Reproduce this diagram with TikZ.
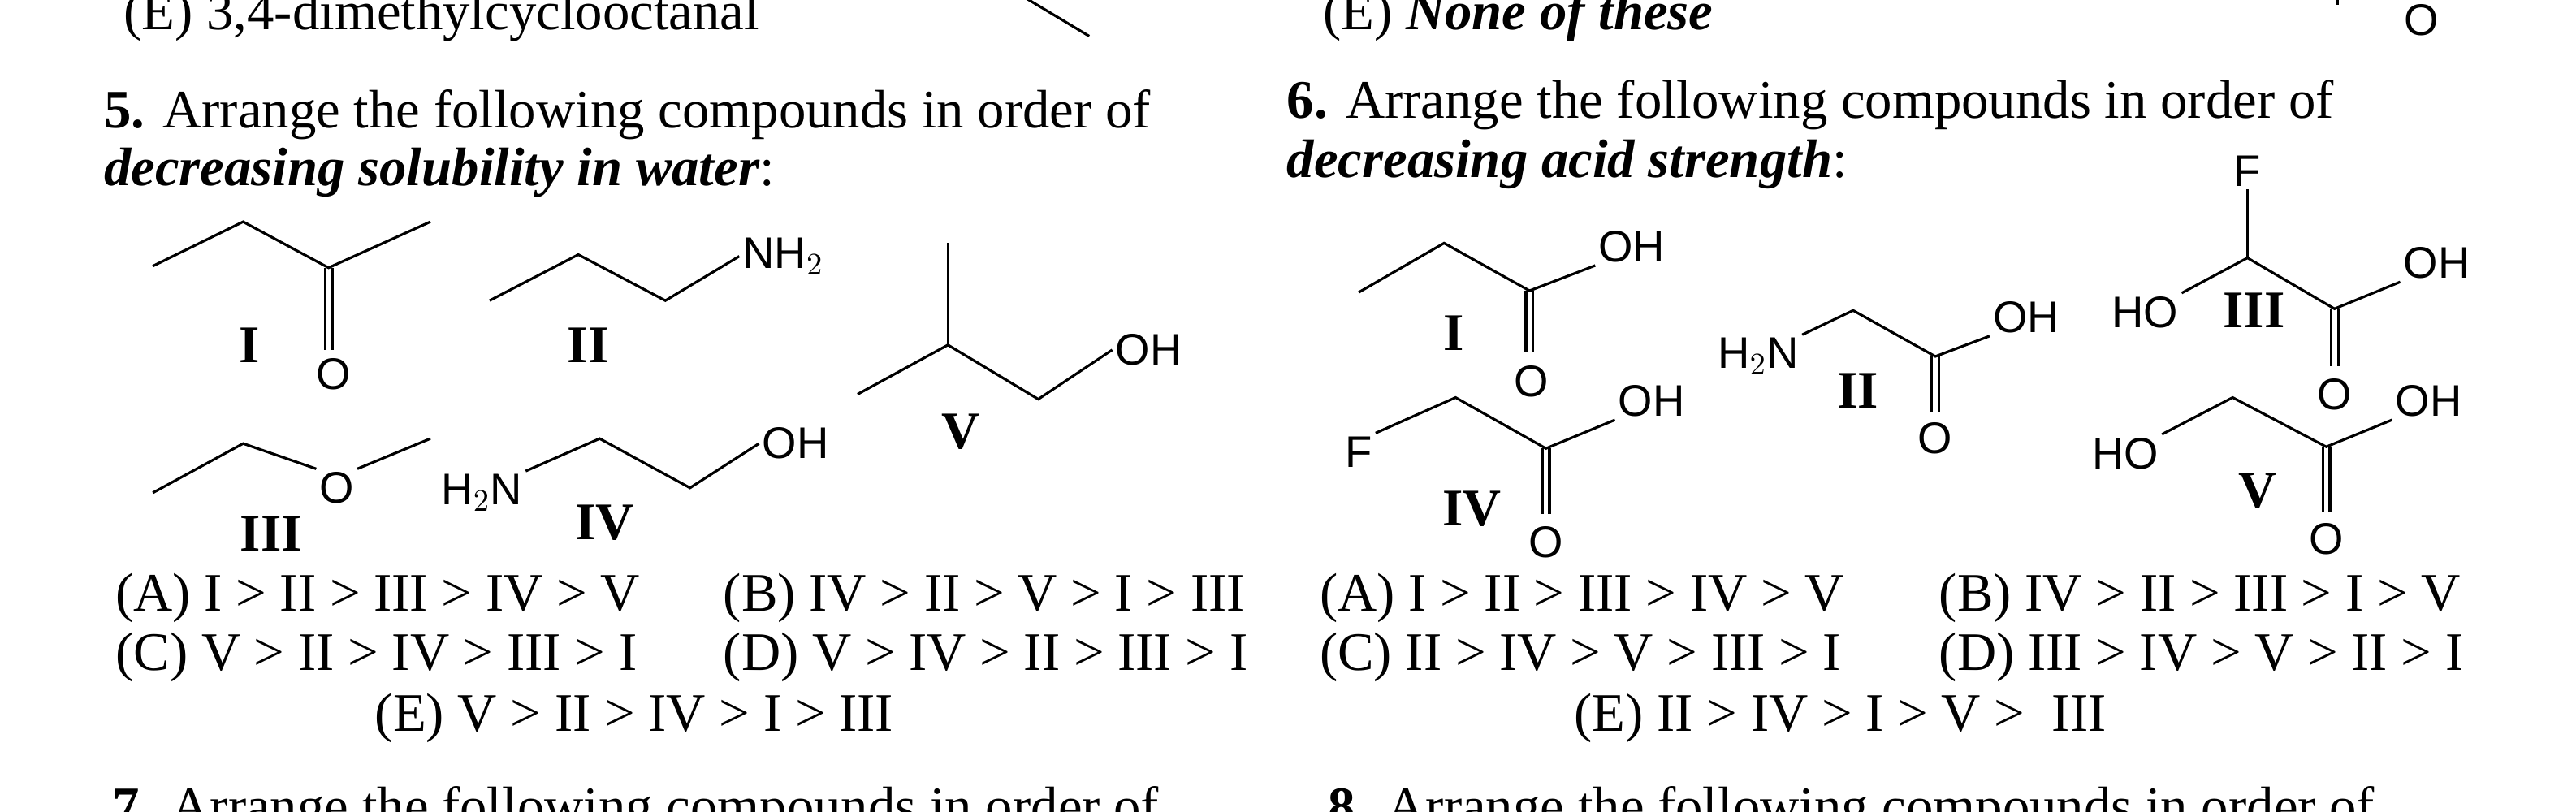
\documentclass[tikz,border=0pt]{standalone}
\usepackage{fontspec}
\setmainfont{Liberation Serif}
\newfontfamily\chemfont{Liberation Sans}
\usetikzlibrary{positioning,calc}
\tikzset{
        txt/.style = {anchor=base west, inner sep=0pt, font=\fontsize{19}{22}\selectfont},
        atom/.style = {inner sep=1pt, font=\chemfont\fontsize{15.5}{18}\selectfont},
        lbl/.style = {inner sep=0pt, font=\bfseries\fontsize{18.5}{22}\selectfont},
        bond/.style = {line width=0.9pt, line join=miter},
    }
\newcommand{\dbond}[2]{\draw[bond] ($(#1)+(-2.2,0)$) -- ($(#2)+(-2.2,0)$);
  \draw[bond] ($(#1)+(2.2,0)$) -- ($(#2)+(2.2,0)$);}

\begin{document}
\begin{tikzpicture}[x=0.2023mm, y=-0.2023mm]
    \useasboundingbox (0,0) rectangle (1568,494.3);

    % cut-off lines of the previous questions
    \node[txt] (q4e) at (75,18) {(E) 3,4-dimethylcyclooctanal};
    \node[txt] (q4f) at (805,18) {(E) \textbf{\textit{None of these}}};
    \coordinate (t1) at (623,-2); \coordinate (t2) at (663,22);
    \draw[bond] (t1) -- (t2);
    \coordinate (t3) at (1423,-2); \coordinate (t4) at (1423,3);
    \draw[bond] (t3) -- (t4);
    \node[atom] (tO) at (1474,12) {O};

    % question 5
    \node[txt] (q5a) at (63,78) {\textbf{5.} Arrange the following compounds in order of};
    \node[txt] (q5b) at (63,113) {\textbf{\textit{decreasing solubility in water}}:};

    % I
    \coordinate (a1) at (93,162); \coordinate (a2) at (148,135);
    \coordinate (a3) at (200,163); \coordinate (a4) at (262,135);
    \draw[bond] (a1) -- (a2) -- (a3) -- (a4);
    \node[atom] (aO) at (203,228) {O};
    \coordinate (a5) at (200,213);
    \dbond{a3}{a5}
    \node[lbl] (aL) at (152,210) {I};
    % II
    \coordinate (b1) at (298,183); \coordinate (b2) at (352,155);
    \coordinate (b3) at (405,183);
    \node[atom, anchor=west] (bN) at (450,156) {NH$_2$};
    \draw[bond] (b1) -- (b2) -- (b3) -- (bN.west);
    \node[lbl] (bL) at (358,210) {II};
    % V
    \coordinate (c1) at (522,240); \coordinate (c2) at (577,210);
    \coordinate (c3) at (632,243); \coordinate (c0) at (577,148);
    \node[atom, anchor=west] (cO) at (677,213) {OH};
    \draw[bond] (c1) -- (c2) -- (c3) -- (cO.west);
    \draw[bond] (c2) -- (c0);
    \node[lbl] (cL) at (585,263) {V};
    % III
    \coordinate (d1) at (93,300); \coordinate (d2) at (148,270);
    \coordinate (d3) at (262,267);
    \node[atom] (dO) at (205,297) {O};
    \draw[bond] (d1) -- (d2) -- (dO.north west);
    \draw[bond] (dO.north east) -- (d3);
    \node[lbl] (dL) at (165,325) {III};
    % IV
    \node[atom, anchor=east] (eN) at (320,300) {H$_2$N};
    \coordinate (e2) at (365,267); \coordinate (e3) at (420,297);
    \node[atom, anchor=west] (eO) at (462,270) {OH};
    \draw[bond] (eN.north east) -- (e2) -- (e3) -- (eO.west);
    \node[lbl] (eL) at (368,318) {IV};

    \node[txt] (q5A) at (70,372) {(A) I > II > III > IV > V};
    \node[txt] (q5B) at (440,372) {(B) IV > II > V > I > III};
    \node[txt] (q5C) at (70,408) {(C) V > II > IV > III > I};
    \node[txt] (q5D) at (440,408) {(D) V > IV > II > III > I};
    \node[txt] (q5E) at (228,445) {(E) V > II > IV > I > III};

    % question 6
    \node[txt] (q6a) at (783,72) {\textbf{6.} Arrange the following compounds in order of};
    \node[txt] (q6b) at (783,108) {\textbf{\textit{decreasing acid strength}}:};

    % I
    \coordinate (f1) at (827,178); \coordinate (f2) at (879,148);
    \coordinate (f3) at (931,177); \coordinate (f5) at (931,214);
    \node[atom, anchor=west] (fO) at (971,150) {OH};
    \draw[bond] (f1) -- (f2) -- (f3) -- (fO.south west);
    \dbond{f3}{f5}
    \node[atom] (fD) at (932,232) {O};
    \node[lbl] (fL) at (885,203) {I};
    % II
    \node[atom, anchor=east] (gN) at (1097,217) {H$_2$N};
    \coordinate (g2) at (1128,189); \coordinate (g3) at (1178,217);
    \coordinate (g5) at (1178,251);
    \node[atom, anchor=west] (gO) at (1211,193) {OH};
    \draw[bond] (gN.north east) -- (g2) -- (g3) -- (gO.south west);
    \dbond{g3}{g5}
    \node[atom] (gD) at (1178,267) {O};
    \node[lbl] (gL) at (1131,238) {II};
    % III
    \node[atom] (hF) at (1368,104) {F};
    \coordinate (h2) at (1368,157); \coordinate (h3) at (1421,188);
    \coordinate (h5) at (1421,223);
    \node[atom, anchor=east] (hH) at (1328,190) {HO};
    \node[atom, anchor=west] (hO) at (1461,160) {OH};
    \draw[bond] (hH.north east) -- (h2) -- (h3) -- (hO.south west);
    \draw[bond] (h2) -- (hF);
    \dbond{h3}{h5}
    \node[atom] (hD) at (1421,240) {O};
    \node[lbl] (hL) at (1372,189) {III};
    % IV
    \node[atom] (iF) at (827,275) {F};
    \coordinate (i2) at (886,242); \coordinate (i3) at (941,273);
    \coordinate (i5) at (941,313);
    \node[atom, anchor=west] (iO) at (983,244) {OH};
    \draw[bond] (iF.north east) -- (i2) -- (i3) -- (iO.south west);
    \dbond{i3}{i5}
    \node[atom] (iD) at (941,330) {O};
    \node[lbl] (iL) at (896,310) {IV};
    % V
    \node[atom, anchor=east] (jH) at (1316,276) {HO};
    \coordinate (j2) at (1359,242); \coordinate (j3) at (1416,272);
    \coordinate (j5) at (1416,312);
    \node[atom, anchor=west] (jO) at (1456,244) {OH};
    \draw[bond] (jH.north east) -- (j2) -- (j3) -- (jO.south west);
    \dbond{j3}{j5}
    \node[atom] (jD) at (1416,328) {O};
    \node[lbl] (jL) at (1374,299) {V};

    \node[txt] (q6A) at (803,372) {(A) I > II > III > IV > V};
    \node[txt] (q6B) at (1180,372) {(B) IV > II > III > I > V};
    \node[txt] (q6C) at (803,408) {(C) II > IV > V > III > I};
    \node[txt] (q6D) at (1180,408) {(D) III > IV > V > II > I};
    \node[txt] (q6E) at (958,445) {(E) II > IV > I > V >\ \ III};

    % cut-off next questions
    \node[txt] (q7) at (68,502) {\textbf{7.} Arrange the following compounds in order of};
    \node[txt] (q8) at (808,502) {\textbf{8.} Arrange the following compounds in order of};
\end{tikzpicture}
\end{document}
